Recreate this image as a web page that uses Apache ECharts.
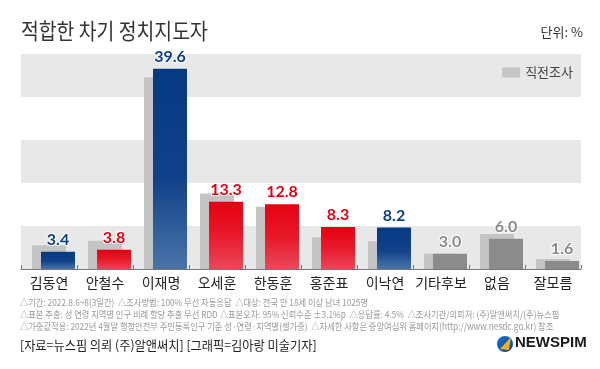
<!DOCTYPE html>
<html><head><meta charset="utf-8">
<script src="https://cdn.jsdelivr.net/npm/echarts@6/dist/echarts.min.js"></script>
<style>html,body{margin:0;padding:0;background:#fff}#c{width:600px;height:369px}</style>
</head><body><div id="c"></div>
<script>
const categories = ['김동연','안철수','이재명','오세훈','한동훈','홍준표','이낙연','기타후보','없음','잘모름'];
const currentValues = [3.4, 3.8, 39.6, 13.3, 12.8, 8.3, 8.2, 3.0, 6.0, 1.6];
const previousValues = [4.7, 5.6, 37.9, 14.9, 12.3, 6.3, 5.5, 3.0, 6.9, 2.0];
const party = ['blue','red','blue','red','red','red','blue','gray','gray','gray'];
const notes = [
  '△기간: 2022.8.6~8(3일간)  △조사방법: 100% 무선 자동응답  △대상: 전국 만 18세 이상 남녀 1025명',
  '△표본 추출: 성 연령 지역별 인구 비례 할당 추출 무선 RDD △표본오차: 95% 신뢰수준 ±3.1%p  △응답률: 4.5%  △조사기관/의뢰처: (주)알앤써치/(주)뉴스핌',
  '△가중값적용: 2022년 4월말 행정안전부 주민등록인구 기준 성·연령·지역별(셀가중)  △자세한 사항은 중앙여심위 홈페이지(http://www.nesdc.go.kr) 참조'
];
const source = '[자료=뉴스핌 의뢰 (주)알앤써치] [그래픽=김아랑 미술기자]';

const KR = '"Noto Sans CJK KR", "Noto Sans", sans-serif';
const NUM = 'Lato, "Noto Sans", sans-serif';
const grad = {
  blue: {type:'linear',x:0,y:0,x2:0,y2:1,colorStops:[{offset:0,color:'#063a82'},{offset:0.55,color:'#11418a'},{offset:1,color:'#4a74a8'}]},
  red: {type:'linear',x:0,y:0,x2:0,y2:1,colorStops:[{offset:0,color:'#e60012'},{offset:0.5,color:'#e8192a'},{offset:1,color:'#e9485a'}]},
  gray: '#8b8b8b'
};
const labelColor = {blue:'#0d3c88', red:'#e60012', gray:'#8a8a8a'};

const chart = echarts.init(document.getElementById('c'), null, {renderer:'canvas'});
const yMax = 42.5, yInt = 8.5;
chart.setOption({
  animation:false,
  backgroundColor:'#fff',
  legend:{data:['직전조사'], right:22, top:61, itemWidth:18, itemHeight:10, itemGap:6,
    textStyle:{fontFamily:KR, fontSize:13, color:'#444'}, icon:'rect'},
  grid:[
    {left:21, right:19, top:54, bottom:100},
    {left:30, right:10, top:54, bottom:100}
  ],
  xAxis:[
    {type:'category', gridIndex:0, data:categories, boundaryGap:true,
      axisLine:{lineStyle:{color:'#777', width:1}},
      axisTick:{show:true, inside:true, length:4, lineStyle:{color:'#777'}},
      axisLabel:{fontFamily:KR, fontSize:14, color:'#222', margin:7, interval:0}},
    {type:'category', gridIndex:1, data:categories, show:false}
  ],
  yAxis:[
    {type:'value', gridIndex:0, min:0, max:yMax, interval:yInt,
      axisLabel:{show:false}, axisLine:{show:false}, axisTick:{show:false},
      splitLine:{show:false},
      splitArea:{show:true, areaStyle:{color:['#e8e8e8','#ffffff']}}},
    {type:'value', gridIndex:1, min:0, max:yMax, interval:yInt, show:false, splitLine:{show:false}}
  ],
  series:[
    {name:'직전조사', type:'bar', xAxisIndex:0, yAxisIndex:0, barWidth:34, data:previousValues,
      itemStyle:{color:'#c4c4c4'}, z:2},
    {name:'이번조사', type:'bar', xAxisIndex:1, yAxisIndex:1, barWidth:34, z:3,
      data:currentValues.map((v,i)=>({value:v, itemStyle:{color:grad[party[i]]},
        label:{color:labelColor[party[i]]}})),
      label:{show:true, position:'top', distance:4, fontFamily:NUM, fontWeight:'bold', fontSize:16,
        textBorderColor:'#fff', textBorderWidth:2, formatter:p=>p.value.toFixed(1)}}
  ],
  graphic:[
    {type:'text', x:21, y:20, scaleX:0.88, style:{text:'적합한 차기 정치지도자', font:'22px '+KR, fill:'#333'}},
    {type:'text', right:17, top:26, style:{text:'단위: %', font:'13px '+KR, fill:'#333'}},
    {type:'text', x:20, y:298, scaleX:0.87, style:{text:notes[0], font:'9.5px '+KR, fill:'#9a9a9a'}},
    {type:'text', x:20, y:310, scaleX:0.87, style:{text:notes[1], font:'9.5px '+KR, fill:'#9a9a9a'}},
    {type:'text', x:20, y:322, scaleX:0.87, style:{text:notes[2], font:'9.5px '+KR, fill:'#9a9a9a'}},
    {type:'text', x:20, y:339, scaleX:0.94, style:{text:source, font:'13px '+KR, fill:'#222'}},
    {type:'circle', shape:{cx:505, cy:344, r:8}, style:{fill:{type:'linear',x:0,y:0,x2:1,y2:1,colorStops:[{offset:0,color:'#1c6cc4'},{offset:1,color:'#0a4a9a'}]}}},
    {type:'polygon', shape:{points:[[500,349],[511,337],[509,350]]}, style:{fill:'#f2b01e'}},
    {type:'text', left:515, top:335, style:{text:'NEWSPIM', font:'bold 15px "Liberation Sans", Arial, sans-serif', fill:'#1a1a1a'}}
  ]
});
</script></body></html>
